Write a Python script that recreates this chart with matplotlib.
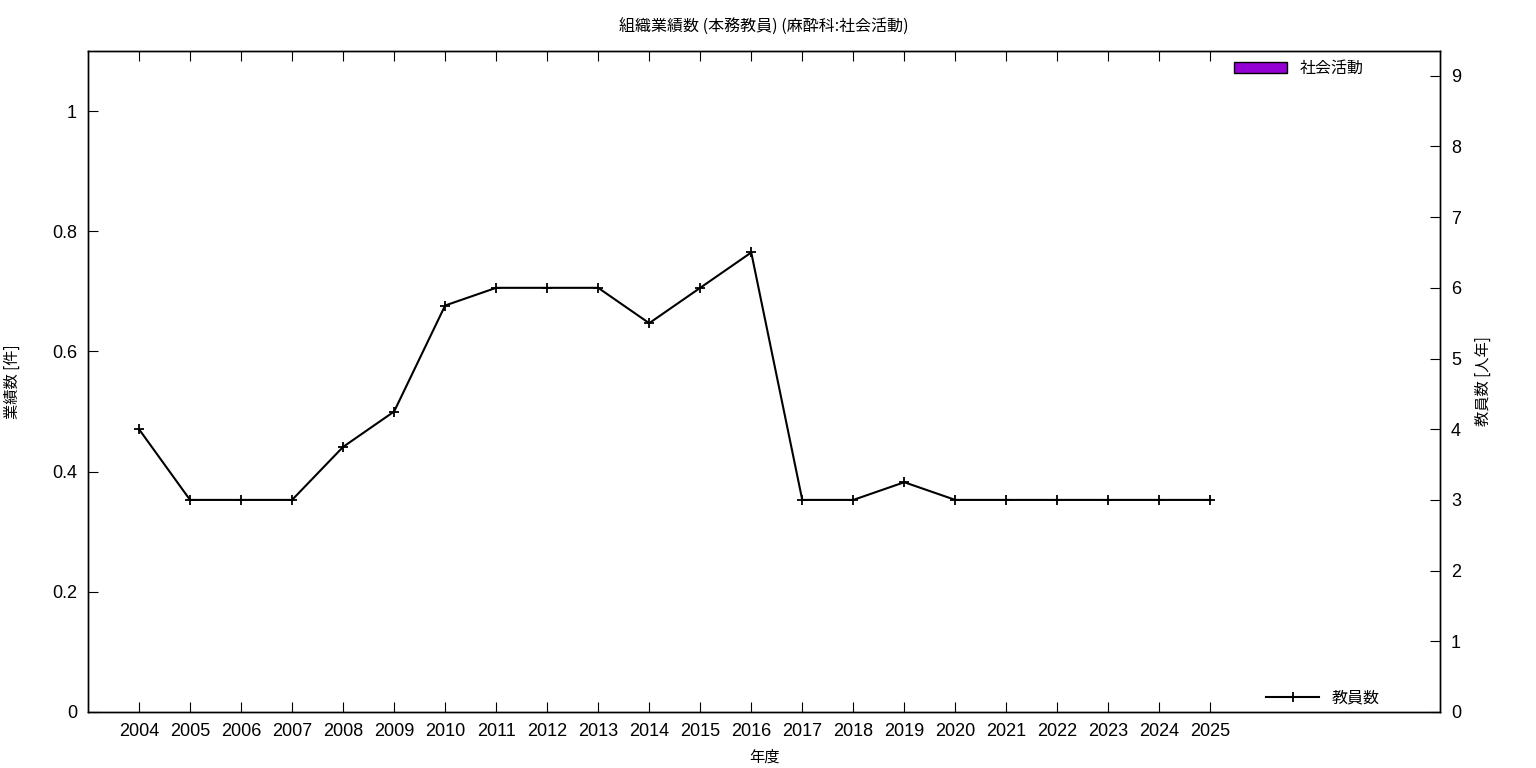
import matplotlib
matplotlib.use("Agg")
import matplotlib.pyplot as plt
from matplotlib.patches import Patch
from matplotlib.lines import Line2D
import numpy as np

plt.rcParams['font.family'] = ['Noto Sans CJK JP', 'DejaVu Sans']

years = [str(y) for y in range(2004, 2026)]
activity = [0] * 22   # 社会活動 (all zero)
staff = [4, 3, 3, 3, 3.75, 4.25, 5.75, 6, 6, 6, 5.5, 6, 6.5,
         3, 3, 3.25, 3, 3, 3, 3, 3, 3]

x = np.arange(len(years))

fig = plt.figure(figsize=(15.36, 7.68), dpi=100)
ax = fig.add_axes([88/1536, 1-712/768, (1440-88)/1536, (712-51)/768])
ax2 = ax.twinx()

ax.bar(x, activity, width=0.8, color='#9400d3', edgecolor='black', lw=0)
ax2.plot(x, staff, color='black', lw=1.5, marker='+', ms=7, mew=1.3)

ax.set_xlim(-1, 25.5)
ax.set_ylim(0, 1.1)
ax2.set_ylim(0, 9.35)
ax.set_yticks([0, 0.2, 0.4, 0.6, 0.8, 1])
ax.set_yticklabels(['0', '0.2', '0.4', '0.6', '0.8', '1'])
ax2.set_yticks(range(10))
ax.set_xticks(x)
ax.set_xticklabels(years)

ax.tick_params(axis='x', direction='in', length=7, top=True, labelsize=13, pad=8)
ax.tick_params(axis='y', direction='in', length=7, labelsize=13, pad=8)
ax2.tick_params(axis='y', direction='in', length=7, labelsize=13, pad=8)
for a in (ax, ax2):
    for s in a.spines.values():
        s.set_linewidth(1)
    for lab in a.get_xticklabels() + a.get_yticklabels():
        lab.set_family(['Liberation Sans', 'DejaVu Sans'])

ax.set_xlabel('年度', fontsize=11, labelpad=6)
ax.set_ylabel('業績数 [件]', fontsize=11, labelpad=22)
ax2.set_ylabel('教員数 [人年]', fontsize=11, labelpad=10)
ax.set_title('組織業績数 (本務教員) (麻酔科:社会活動)', fontsize=11.5, pad=14)

leg1 = ax2.legend(handles=[Patch(facecolor='#9400d3', edgecolor='black', label='社会活動')],
                  loc='upper right', frameon=False, fontsize=11.5,
                  handlelength=3.3, handleheight=0.6, bbox_to_anchor=(0.954, 1.008))
ax2.add_artist(leg1)
ax2.legend(handles=[Line2D([], [], color='black', lw=1.5, marker='+', ms=7, mew=1.3, label='教員数')],
           loc='lower right', frameon=False, fontsize=11.5, handlelength=3.3,
           bbox_to_anchor=(0.966, -0.014))

fig.savefig('out.png', dpi=100)
